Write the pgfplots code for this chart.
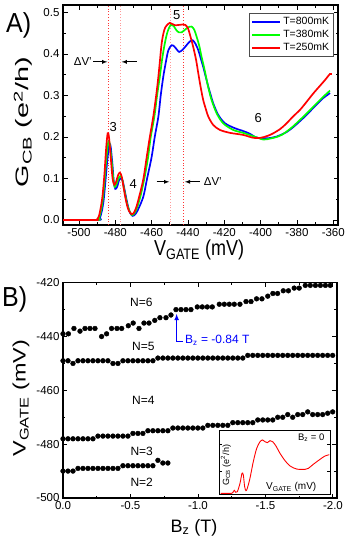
\documentclass[border=0pt]{standalone}
\usepackage{fontspec}
\setmainfont{Liberation Sans}
\usepackage{pgfplots}
\pgfplotsset{compat=1.18}

% common look of both panels
\pgfplotsset{
  panel/.style={
    scale only axis, anchor=south west,
    tick align=inside, tick pos=both,
    axis line style={line width=1.2pt},
    major tick length=4.5pt, minor tick length=2.5pt,
    every tick/.style={black, line width=0.9pt},
    /pgf/number format/assume math mode=true,
    tick label style={font=\fontsize{11.5}{13}\selectfont},
  },
}

\begin{document}
\begin{tikzpicture}
\useasboundingbox (0,0) rectangle (352pt,539pt);

% ---------------- panel A ----------------
\begin{axis}[panel, at={(63pt,314pt)}, width=275pt, height=220pt,
  xmin=-508.8, xmax=-357.4, ymin=-0.012, ymax=0.518,
  xtick={-500,-480,...,-360}, minor x tick num=1,
  ytick={0,0.1,0.2,0.3,0.4,0.5}, minor y tick num=1,
  yticklabel style={/pgf/number format/.cd, fixed, fixed zerofill, precision=1},
  xlabel={V\textsubscript{GATE} (mV)},
  ylabel={G\textsubscript{CB} (e\textsuperscript{2}/h)},
  xlabel style={at={(axis description cs:0.495,-0.14)}, anchor=base,
    font=\fontsize{18}{20}\selectfont, yscale=1.2},
  ylabel style={at={(axis description cs:-0.145,0.468)}, anchor=center,
    font=\fontsize{18}{20}\selectfont, xscale=1.6},
  legend style={at={(0.983,0.962)}, anchor=north east, draw=black!70,
    font=\fontsize{10.5}{13}\selectfont, inner sep=2pt},
  legend cell align=left,
  legend image code/.code={\draw[#1, line width=1.8pt] (0pt,0pt) -- (28pt,0pt);},
]
\addplot[red!80, dotted, line width=0.8pt, forget plot] coordinates {(-483.9,-0.012) (-483.9,0.518)};
\addplot[red!40, dotted, line width=0.8pt, forget plot] coordinates {(-477.1,-0.012) (-477.1,0.518)};
\addplot[red!40, dotted, line width=0.8pt, forget plot] coordinates {(-449.7,-0.012) (-449.7,0.518)};
\addplot[red!80, dotted, line width=0.8pt, forget plot] coordinates {(-442.6,-0.012) (-442.6,0.518)};

\addplot[blue, line width=1.7pt, smooth] coordinates {
(-510,0) (-489.5,0) (-488.5,0.005) (-487.5,0.02) (-486.5,0.045) (-485.5,0.09) (-484.5,0.14)
(-483.5,0.178) (-483,0.183) (-482.5,0.175) (-481.5,0.13) (-480.8,0.09) (-480,0.075) (-479,0.08)
(-478,0.095) (-477,0.1) (-476,0.095) (-475,0.075) (-474,0.053) (-473,0.033) (-472,0.018)
(-470.5,0.01) (-469,0.014) (-467.5,0.025) (-464.6,0.056) (-462.5,0.1) (-460,0.152) (-458.3,0.2)
(-456.3,0.249) (-455,0.3) (-453.6,0.345) (-452.2,0.38) (-450.8,0.409) (-449,0.421) (-447.5,0.418)
(-446,0.41) (-444.8,0.405) (-443,0.41) (-441,0.42) (-439,0.43) (-437.4,0.433) (-435.8,0.424)
(-434.3,0.409) (-433,0.39) (-431.6,0.369) (-430.2,0.345) (-428.8,0.321) (-427.4,0.3) (-426.1,0.281)
(-423.3,0.253) (-419.6,0.233) (-414.1,0.221) (-410,0.215) (-406,0.208) (-403,0.2) (-400,0.197)
(-396,0.197) (-391.2,0.201) (-385.7,0.212) (-382,0.224) (-378.4,0.238) (-375,0.252) (-371,0.27)
(-368,0.283) (-365.5,0.294) (-363,0.302) (-361.8,0.306)};
\addlegendentry{T=800mK}
\addplot[green, line width=1.7pt, smooth] coordinates {
(-510,0) (-490,0) (-489,0.005) (-488,0.02) (-487,0.045) (-486,0.09) (-485,0.145) (-484,0.185)
(-483.5,0.19) (-483,0.18) (-482,0.14) (-481,0.095) (-480.3,0.08) (-479.3,0.087) (-478.3,0.1)
(-477.3,0.106) (-476.3,0.1) (-475.3,0.078) (-474.3,0.055) (-473.3,0.035) (-472,0.02) (-470.8,0.012)
(-469.5,0.016) (-468,0.03) (-466,0.06) (-464,0.1) (-462,0.15) (-460.5,0.2) (-458.5,0.249)
(-457,0.3) (-455.5,0.345) (-454.3,0.385) (-453,0.42) (-451.5,0.45) (-450.2,0.465) (-449.5,0.47)
(-448,0.468) (-446.5,0.458) (-445,0.452) (-443.5,0.452) (-442,0.457) (-440,0.464) (-438,0.466)
(-436.5,0.458) (-435.2,0.441) (-433.8,0.42) (-432.5,0.393) (-431,0.365) (-429.7,0.337) (-428.3,0.31)
(-427,0.289) (-424.2,0.257) (-420.6,0.233) (-415.1,0.217) (-409.6,0.21) (-404.1,0.202) (-398.6,0.194)
(-395,0.196) (-391.2,0.2) (-388,0.206) (-385.7,0.213) (-382,0.226) (-378.4,0.241) (-375,0.255)
(-371,0.273) (-368,0.286) (-365.5,0.297) (-363,0.307) (-361.8,0.312)};
\addlegendentry{T=380mK}
\addplot[red, line width=1.7pt, smooth] coordinates {
(-510,0) (-491,0) (-490,0.002) (-489,0.01) (-488,0.03) (-487,0.06) (-486,0.11) (-485,0.175)
(-484.2,0.209) (-483.5,0.2) (-482.5,0.15) (-481.5,0.1) (-480.5,0.085) (-479.5,0.093) (-478.5,0.108)
(-477.5,0.114) (-476.5,0.105) (-475.5,0.08) (-474.5,0.055) (-473.5,0.035) (-472.5,0.022) (-471,0.014)
(-470,0.016) (-468.5,0.03) (-466.4,0.064) (-464.5,0.1) (-462.7,0.152) (-461,0.2) (-459.1,0.249)
(-457.5,0.3) (-456.3,0.345) (-455.4,0.385) (-454.5,0.425) (-453.5,0.45) (-452.5,0.464) (-451,0.472)
(-450,0.475) (-448.5,0.472) (-447,0.469) (-445,0.47) (-443,0.471) (-441.5,0.47) (-440,0.462)
(-438.5,0.44) (-437,0.415) (-435.5,0.385) (-434.3,0.353) (-433,0.32) (-431.6,0.289) (-430,0.265)
(-428.8,0.249) (-426.1,0.229) (-422.4,0.217) (-416.9,0.21) (-409.6,0.205) (-404,0.198) (-400,0.198)
(-396,0.203) (-393,0.209) (-389,0.22) (-385.7,0.233) (-382,0.25) (-378.4,0.265) (-375,0.283)
(-371,0.305) (-368,0.32) (-364.6,0.337) (-361.8,0.352) (-360.8,0.352)};
\addlegendentry{T=250mK}

% annotations
\begin{scope}[font=\fontsize{13}{14}\selectfont]
\node at (axis cs:-481.1,0.225) {3};
\node at (axis cs:-470.1,0.086) {4};
\node at (axis cs:-446.2,0.494) {5};
\node at (axis cs:-401.3,0.245) {6};
\end{scope}
\draw[-latex, line width=0.8pt] (axis cs:-492.1,0.381) -- (axis cs:-484.4,0.381);
\draw[-latex, line width=0.8pt] (axis cs:-468.3,0.381) -- (axis cs:-476.5,0.381);
\draw[-latex, line width=0.8pt] (axis cs:-457.2,0.092) -- (axis cs:-450.3,0.092);
\draw[-latex, line width=0.8pt] (axis cs:-433.4,0.092) -- (axis cs:-441.7,0.092);
\node[anchor=east, font=\fontsize{11.5}{12}\selectfont, inner sep=1pt] at (axis cs:-492.3,0.381) {ΔV'};
\node[anchor=west, font=\fontsize{11.5}{12}\selectfont, inner sep=1pt] at (axis cs:-431.9,0.092) {ΔV'};
\end{axis}

% ---------------- panel B ----------------
\begin{axis}[panel, at={(63pt,41pt)}, width=274pt, height=215.3pt,
  x dir=reverse, xmin=-2.03, xmax=0, ymin=-500, ymax=-420,
  xtick={0,-0.5,-1,-1.5,-2}, minor x tick num=1,
  ytick={-500,-480,-460,-440,-420}, minor y tick num=1,
  xticklabel style={/pgf/number format/.cd, fixed, fixed zerofill, precision=1},
  xlabel={B\textsubscript{z} (T)},
  ylabel={V\textsubscript{GATE} (mV)},
  xlabel style={at={(axis description cs:0.478,-0.158)}, anchor=base,
    font=\fontsize{18}{20}\selectfont},
  ylabel style={at={(axis description cs:-0.153,0.464)}, anchor=center,
    font=\fontsize{18}{20}\selectfont, xscale=1.3},
]
% N=6 / N=5 boundary
\addplot[only marks, mark=*, mark size=2.4pt, black] coordinates {
(0,-439) (-0.04,-439) (-0.081,-437) (-0.126,-438) (-0.163,-437) (-0.2,-437) (-0.237,-437)
(-0.286,-440) (-0.323,-439) (-0.36,-437) (-0.4,-437) (-0.435,-437) (-0.484,-436) (-0.52,-435)
(-0.563,-437) (-0.6,-435) (-0.637,-435) (-0.68,-434) (-0.718,-433) (-0.763,-433) (-0.8,-432)
(-0.837,-430) (-0.874,-430) (-0.911,-430) (-0.948,-430) (-0.995,-429) (-1.032,-429) (-1.069,-429)
(-1.106,-429) (-1.158,-428) (-1.195,-428) (-1.232,-428) (-1.269,-428) (-1.311,-428) (-1.356,-427)
(-1.393,-427) (-1.434,-426) (-1.474,-426) (-1.517,-425) (-1.555,-424) (-1.59,-424) (-1.632,-423)
(-1.67,-423) (-1.713,-422) (-1.75,-422) (-1.795,-421) (-1.832,-421) (-1.87,-421) (-1.907,-421)
(-1.944,-421) (-1.98,-421)};
% N=5 / N=4 boundary
\addplot[only marks, mark=*, mark size=2.4pt, black] coordinates {
(0,-449) (-0.037,-449) (-0.074,-450) (-0.111,-449) (-0.148,-449) (-0.185,-449) (-0.222,-449)
(-0.259,-449) (-0.296,-449) (-0.333,-449) (-0.37,-450) (-0.407,-450) (-0.444,-449) (-0.481,-449)
(-0.518,-449) (-0.555,-449) (-0.592,-449) (-0.629,-449) (-0.666,-449) (-0.703,-448) (-0.74,-448)
(-0.777,-448) (-0.814,-448) (-0.851,-448) (-0.888,-448) (-0.925,-448) (-0.962,-448) (-0.999,-448)
(-1.036,-448) (-1.073,-448) (-1.11,-448) (-1.147,-448) (-1.184,-448) (-1.221,-448) (-1.258,-448)
(-1.295,-448) (-1.332,-448) (-1.369,-447) (-1.406,-447) (-1.443,-447) (-1.48,-447) (-1.517,-447)
(-1.554,-447) (-1.591,-447) (-1.628,-447) (-1.665,-447) (-1.702,-447) (-1.739,-447) (-1.776,-447)
(-1.813,-447) (-1.85,-447) (-1.887,-447) (-1.924,-447) (-1.961,-447) (-1.998,-447)};
% N=4 / N=3 boundary
\addplot[only marks, mark=*, mark size=2.4pt, black] coordinates {
(0,-478) (-0.037,-478) (-0.074,-478) (-0.111,-478) (-0.148,-478) (-0.185,-478) (-0.222,-478)
(-0.259,-477) (-0.296,-477) (-0.333,-477) (-0.37,-477) (-0.407,-477) (-0.444,-477) (-0.481,-477)
(-0.518,-476) (-0.555,-476) (-0.592,-476) (-0.629,-475) (-0.666,-475) (-0.703,-475) (-0.74,-475)
(-0.777,-475) (-0.814,-474) (-0.851,-474) (-0.888,-474) (-0.925,-474) (-0.962,-474) (-0.999,-474)
(-1.036,-474) (-1.073,-473) (-1.11,-473) (-1.147,-473) (-1.184,-473) (-1.221,-473) (-1.258,-472)
(-1.295,-472) (-1.332,-472) (-1.369,-472) (-1.406,-472) (-1.443,-471) (-1.48,-471) (-1.517,-471)
(-1.554,-471) (-1.591,-470) (-1.628,-470) (-1.665,-469) (-1.702,-470) (-1.739,-469) (-1.776,-469)
(-1.813,-468) (-1.85,-469) (-1.887,-469) (-1.924,-469) (-1.961,-468.5) (-1.998,-468)};
% N=3 / N=2 boundary
\addplot[only marks, mark=*, mark size=2.4pt, black] coordinates {
(0,-490) (-0.037,-490) (-0.074,-490) (-0.111,-489) (-0.148,-489) (-0.185,-489) (-0.222,-489)
(-0.259,-489) (-0.296,-489) (-0.333,-489) (-0.37,-489) (-0.407,-489) (-0.444,-488) (-0.481,-488)
(-0.518,-488) (-0.555,-488) (-0.592,-488) (-0.629,-488) (-0.666,-488) (-0.703,-486) (-0.74,-487)
(-0.777,-487)};

\begin{scope}[font=\fontsize{12}{13}\selectfont]
\node at (axis cs:-0.58,-427.3) {N=6};
\node at (axis cs:-0.595,-443.8) {N=5};
\node at (axis cs:-0.595,-463.8) {N=4};
\node at (axis cs:-0.583,-482.8) {N=3};
\node at (axis cs:-0.583,-494.3) {N=2};
\end{scope}
\draw[blue, line width=1.1pt, -latex] (axis cs:-0.886,-441.7) -- (axis cs:-0.842,-441.7) -- (axis cs:-0.842,-431.6);
\node[blue, anchor=base west, inner sep=0pt, font=\fontsize{12}{13}\selectfont]
  at (axis cs:-0.904,-442.5) {B\textsubscript{z} = -0.84 T};
\end{axis}

% ---------------- inset ----------------
\begin{axis}[scale only axis, anchor=south west, at={(219.3pt,45pt)},
  width=110.7pt, height=64pt, xmin=0, xmax=1, ymin=0, ymax=1,
  axis background/.style={fill=white},
  axis line style={line width=0.8pt},
  tick align=inside, tick pos=both, major tick length=3pt,
  every tick/.style={black, line width=0.7pt},
  xtick=\empty, ytick={0.35,0.77}, yticklabels={},
]
\addplot[red, line width=0.9pt, smooth] coordinates {
(0.013,0.011) (0.112,0.011) (0.127,0.042) (0.136,0.058) (0.148,0.027) (0.163,0.036)
(0.187,0.167) (0.205,0.323) (0.217,0.297) (0.229,0.114) (0.241,0.052) (0.253,0.089)
(0.277,0.245) (0.307,0.505) (0.338,0.714) (0.368,0.817) (0.392,0.844) (0.413,0.817)
(0.434,0.802) (0.458,0.833) (0.482,0.817) (0.512,0.75) (0.548,0.636) (0.594,0.52)
(0.639,0.438) (0.699,0.39) (0.774,0.385) (0.804,0.4) (0.849,0.464) (0.91,0.542)
(0.955,0.594) (0.994,0.614)};
\node[rotate=90, font=\fontsize{9}{10}\selectfont] at (axis cs:0.06,0.45) {G\textsubscript{CB} (e\textsuperscript{2}/h)};
\node[anchor=base, font=\fontsize{10}{11}\selectfont] at (axis cs:0.65,0.07) {V\textsubscript{GATE} (mV)};
\node[anchor=base, font=\fontsize{9.5}{10}\selectfont] at (axis cs:0.83,0.84) {B\textsubscript{z} = 0};
\end{axis}

% panel letters
\node[anchor=base west, inner sep=0pt, font=\fontsize{25}{26}\selectfont, yscale=1.1] at (6pt,506pt) {A)};
\node[anchor=base west, inner sep=0pt, font=\fontsize{25}{26}\selectfont, yscale=1.1] at (2pt,232pt) {B)};
\end{tikzpicture}
\end{document}
